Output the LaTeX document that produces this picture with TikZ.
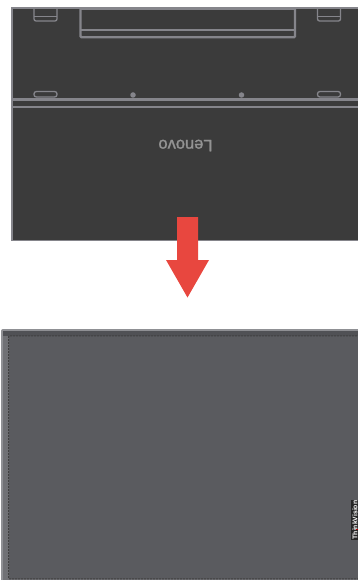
\documentclass[tikz,border=0pt]{standalone}
\usepackage{fontspec}
\setmainfont{Liberation Sans}
\definecolor{panelback}{HTML}{3B3B3B}
\definecolor{edgegray}{HTML}{85858B}
\definecolor{panelfront}{HTML}{5A5B5F}
\definecolor{bandfront}{HTML}{505155}
\definecolor{bandleft}{HTML}{707175}
\definecolor{rimlight}{HTML}{8F9094}
\definecolor{arrowred}{HTML}{E8473F}
\tikzset{
  thinline/.style={draw=edgegray,line width=1.3pt},
  thickline/.style={draw=edgegray,line width=2.3pt},
  pin/.style={circle,fill=edgegray,inner sep=0pt,minimum size=5.5pt},
}
\begin{document}
\begin{tikzpicture}[x=1pt,y=-1pt]
\useasboundingbox (0,0) rectangle (358,580);
% rear panel
\fill[panelback] (12,8) rectangle (358,240);
\draw[thinline,line width=1.5pt] (358,7.8) -- (12,7.8) -- (12,240.3) -- (358,240.3);
\draw[thickline] (12,99.5) -- (358,99.5);
\draw[thickline] (12,107.3) -- (358,107.3);
% stand recess
\draw[thickline,rounded corners=1pt] (80.5,8) -- (80.5,37.3) -- (295,37.3) -- (295,8);
\draw[thickline] (80.5,8.5) -- (295,8.5);
\draw[thickline] (80.5,30.3) -- (295,30.3);
% hinge tabs
\foreach \x in {34,317.5}{
  \draw[thinline,rounded corners=2pt] (\x,8) -- (\x,21) -- (\x+23,21) -- (\x+23,8);
  \draw[thinline] (\x,16.5) -- (\x+23,16.5);
  \draw[thinline,rounded corners=2.4pt] (\x,91.5) rectangle (\x+23,97);
}
\node[pin] (pinl) at (133,95) {};
\node[pin] (pinr) at (241.5,95) {};
\node[rotate=180,text=gray!85,font=\fontsize{16.5}{16.5}\selectfont,inner sep=0pt] (logo) at (185.5,145.5) {\addfontfeature{FakeBold=1.5}Lenovo};
% arrow
\fill[arrowred] (177,217) -- (198,217) -- (198,260) -- (209,260) -- (187.5,297.5) -- (166,260) -- (177,260) -- cycle;
% front panel
\fill[rimlight,rounded corners=2pt] (1,329) rectangle (360,590);
\fill[bandleft] (3,331) rectangle (360,590);
\fill[bandfront] (3,330.5) rectangle (360,336);
\fill[panelfront] (8.5,335.5) rectangle (360,579);
\draw[black!75,line width=1pt,dash pattern=on 2pt off 1pt,rounded corners=1pt] (360,335.8) -- (8.5,335.8) -- (8.5,578.8) -- (360,578.8);
% badge
\fill[black!85] (351,500) rectangle (358,540);
\node[rotate=90,text=white,font=\bfseries\fontsize{6.8}{6.8}\selectfont,inner sep=0pt,anchor=center] (badge) at (355,520) {ThinkVision};
\fill[red!70!black] (355.8,528.5) rectangle (357.5,530);
\end{tikzpicture}
\end{document}
